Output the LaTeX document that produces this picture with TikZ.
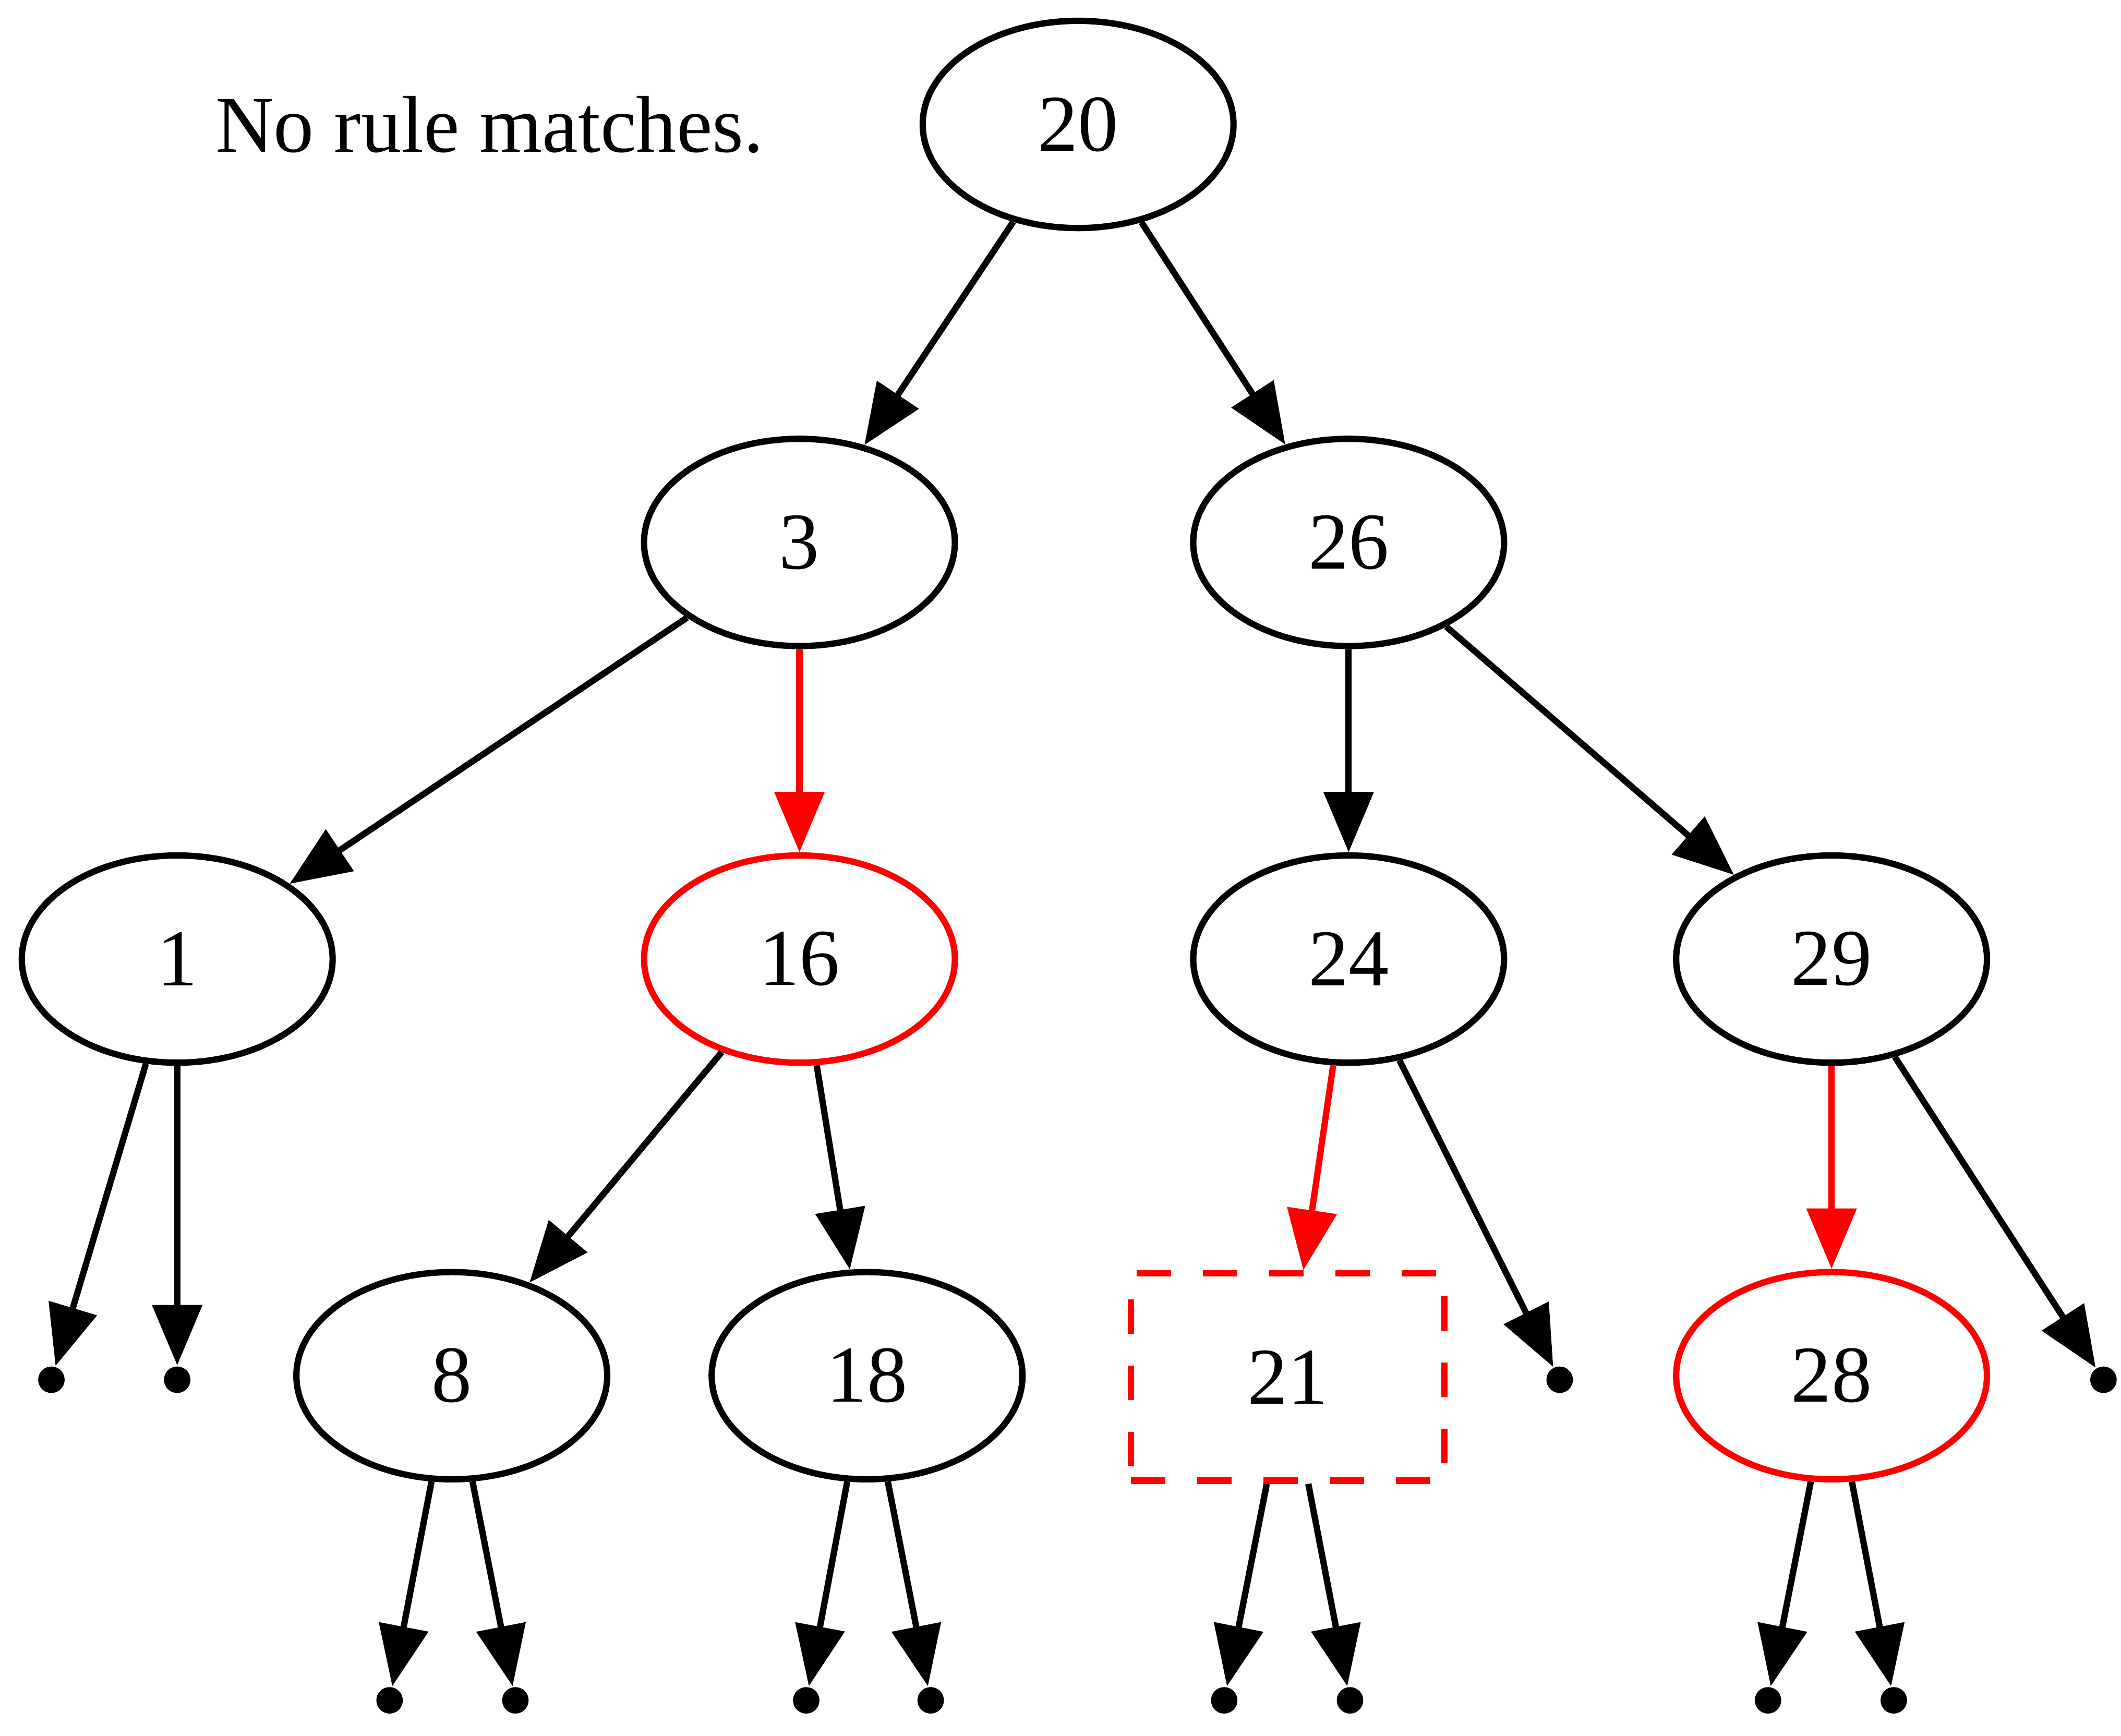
\documentclass[tikz,border=0pt]{standalone}
\usepackage{fontspec}
\setmainfont{Liberation Serif}
\usetikzlibrary{arrows.meta,shapes.geometric}
\tikzset{
  nd/.style={draw=#1, ellipse, line width=1.1pt, minimum width=54pt, minimum height=36pt, inner sep=0pt, font=\fontsize{14}{16}\selectfont},
  nd/.default=black,
  hole/.style={draw=red, rectangle, line width=1.1pt, dash pattern=on 6pt off 5.5pt, minimum width=54.5pt, minimum height=36pt, inner sep=0pt, font=\fontsize{14}{16}\selectfont},
  leaf/.style={circle, fill=black, inner sep=0pt, minimum size=4.6pt},
  arrow/.style={-{Triangle[length=10.5pt, width=8.5pt]}, line width=1.1pt, draw=#1},
  arrow/.default=black,
  note/.style={font=\fontsize{14}{16}\selectfont, inner sep=0pt}
}
\begin{document}
\begin{tikzpicture}[x=0.235pt, y=-0.235pt]
    \useasboundingbox (0,0) rectangle (1568,1283);
    \node[note] (msg) at (362,92) {No rule matches.};
    \node[nd] (n20) at (797,92) {20};
    \node[nd] (n3) at (591,401) {3};
    \node[nd] (n26) at (997,401) {26};
    \node[nd] (n1) at (131,709) {1};
    \node[nd=red] (n16) at (591,709) {16};
    \node[nd] (n24) at (997,709) {24};
    \node[nd] (n29) at (1354,709) {29};
    \node[nd] (n8) at (334,1017) {8};
    \node[nd] (n18) at (641,1017) {18};
    \node[hole] (n21) at (952,1018) {21};
    \node[nd=red] (n28) at (1354,1017) {28};
    % empty children
    \node[leaf] (e1a) at (38,1020) {};
    \node[leaf] (e1b) at (131,1020) {};
    \node[leaf] (e24) at (1153,1020) {};
    \node[leaf] (e29) at (1555,1020) {};
    \node[leaf] (e8a) at (288,1257) {};
    \node[leaf] (e8b) at (381,1257) {};
    \node[leaf] (e18a) at (596,1257) {};
    \node[leaf] (e18b) at (688,1257) {};
    \node[leaf] (e21a) at (905,1257) {};
    \node[leaf] (e21b) at (998,1257) {};
    \node[leaf] (e28a) at (1307,1257) {};
    \node[leaf] (e28b) at (1400,1257) {};
    \draw[arrow] (n20) -- (n3);
    \draw[arrow] (n20) -- (n26);
    \draw[arrow] (n3) -- (n1);
    \draw[arrow=red] (n3) -- (n16);
    \draw[arrow] (n26) -- (n24);
    \draw[arrow] (n26) -- (n29);
    \draw[arrow] (n1) -- (e1a);
    \draw[arrow] (n1) -- (e1b);
    \draw[arrow] (n16) -- (n8);
    \draw[arrow] (n16) -- (n18);
    \draw[arrow=red] (n24) -- (n21);
    \draw[arrow] (n24) -- (e24);
    \draw[arrow=red] (n29) -- (n28);
    \draw[arrow] (n29) -- (e29);
    \draw[arrow] (n8) -- (e8a);
    \draw[arrow] (n8) -- (e8b);
    \draw[arrow] (n18) -- (e18a);
    \draw[arrow] (n18) -- (e18b);
    \draw[arrow] (n21) -- (e21a);
    \draw[arrow] (n21) -- (e21b);
    \draw[arrow] (n28) -- (e28a);
    \draw[arrow] (n28) -- (e28b);
  \end{tikzpicture}
\end{document}
